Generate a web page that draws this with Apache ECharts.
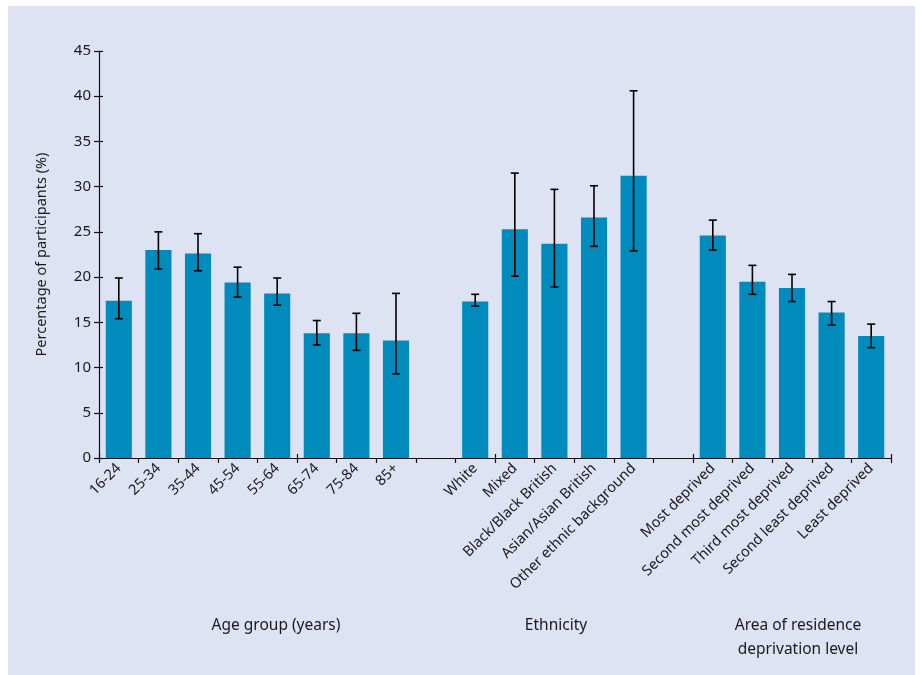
<!DOCTYPE html>
<html>
<head>
<meta charset="utf-8">
<style>
  html, body { margin: 0; padding: 0; background: #ffffff; }
  #panel { position: absolute; left: 8px; top: 6px; width: 907px; height: 669px; background: #dee3f3; }
  #chart { position: absolute; left: 0; top: 0; width: 920px; height: 675px; }
</style>
<script src="https://cdn.jsdelivr.net/npm/echarts@6/dist/echarts.min.js"></script>
</head>
<body>
<div id="panel"></div>
<div id="chart"></div>
<script>
// Categories, with empty slots separating the three groups
const categories = [
  '16-24', '25-34', '35-44', '45-54', '55-64', '65-74', '75-84', '85+',
  '',
  'White', 'Mixed', 'Black/Black British', 'Asian/Asian British', 'Other ethnic background',
  '',
  'Most deprived', 'Second most deprived', 'Third most deprived', 'Second least deprived', 'Least deprived'
];

// Percentage of participants per category
const values = [
  17.4, 23.0, 22.6, 19.4, 18.2, 13.8, 13.8, 13.0,
  null,
  17.3, 25.3, 23.7, 26.6, 31.2,
  null,
  24.6, 19.5, 18.8, 16.1, 13.5
];

// 95% confidence interval bounds
const lower = [
  15.4, 20.9, 20.7, 17.8, 16.9, 12.5, 11.9, 9.3,
  null,
  16.8, 20.1, 18.9, 23.4, 22.9,
  null,
  23.0, 18.1, 17.3, 14.7, 12.2
];
const upper = [
  19.9, 25.0, 24.8, 21.1, 19.9, 15.2, 16.0, 18.2,
  null,
  18.1, 31.5, 29.7, 30.1, 40.6,
  null,
  26.3, 21.3, 20.3, 17.3, 14.8
];

// Y axis ticks
const yTicks = [0, 5, 10, 15, 20, 25, 30, 35, 40, 45];

const groupTitles = [
  { text: 'Age group (years)', x: 276, y: 626 },
  { text: 'Ethnicity', x: 556, y: 626 },
  { text: 'Area of residence\ndeprivation level', x: 798, y: 638 }
];

const FONT = '"Noto Sans", "Open Sans", sans-serif';
const TEXT = '#1a1a1a';

const errorData = categories.map((c, i) => [i, lower[i], upper[i]]).filter(d => d[1] != null);

const chart = echarts.init(document.getElementById('chart'), null, { renderer: 'canvas' });

const yMin = yTicks[0], yMax = yTicks[yTicks.length - 1], yStep = yTicks[1] - yTicks[0];

chart.setOption({
  backgroundColor: 'transparent',
  animation: false,
  textStyle: { fontFamily: FONT },
  grid: { left: 99, right: 29, top: 51, bottom: 217, containLabel: false },
  xAxis: [
    {
      type: 'category',
      data: categories,
      axisLine: { lineStyle: { color: '#111', width: 1.2 } },
      axisTick: { show: true, length: 5, lineStyle: { color: '#111', width: 1.2 } },
      axisLabel: {
        interval: 0, rotate: 45, margin: 8,
        fontFamily: FONT, fontSize: 14.5, color: TEXT
      },
      splitLine: { show: false }
    },
    {
      type: 'category',
      data: categories,
      position: 'bottom',
      axisLine: { show: false },
      axisTick: { show: true, inside: true, length: 4, lineStyle: { color: '#111', width: 1.2 } },
      axisLabel: { show: false }
    }
  ],
  yAxis: [
    {
      type: 'value',
      min: yMin, max: yMax, interval: yStep,
      name: 'Percentage of participants (%)',
      nameLocation: 'middle',
      nameGap: 50,
      nameRotate: 90,
      nameTextStyle: { fontFamily: FONT, fontSize: 14.5, color: TEXT },
      axisLine: { show: true, lineStyle: { color: '#111', width: 1.2 } },
      axisTick: { show: true, length: 5, lineStyle: { color: '#111', width: 1.2 } },
      axisLabel: { margin: 8, fontFamily: FONT, fontSize: 15, color: TEXT },
      splitLine: { show: false }
    },
    {
      type: 'value',
      min: yMin, max: yMax, interval: yStep,
      position: 'left',
      axisLine: { show: false },
      axisTick: { show: true, inside: true, length: 4, lineStyle: { color: '#111', width: 1.2 } },
      axisLabel: { show: false },
      splitLine: { show: false }
    }
  ],
  series: [
    {
      type: 'bar',
      data: values,
      barCategoryGap: '34%',
      itemStyle: { color: '#008bbd' },
      z: 2
    },
    {
      type: 'custom',
      data: errorData,
      z: 5,
      renderItem: function (params, api) {
        const x = api.value(0);
        const lo = api.coord([x, api.value(1)]);
        const hi = api.coord([x, api.value(2)]);
        const cap = 4;
        const style = { stroke: '#000', lineWidth: 1.6 };
        return {
          type: 'group',
          children: [
            { type: 'line', shape: { x1: lo[0], y1: lo[1], x2: hi[0], y2: hi[1] }, style },
            { type: 'line', shape: { x1: lo[0] - cap, y1: lo[1], x2: lo[0] + cap, y2: lo[1] }, style },
            { type: 'line', shape: { x1: hi[0] - cap, y1: hi[1], x2: hi[0] + cap, y2: hi[1] }, style }
          ]
        };
      }
    }
  ],
  graphic: groupTitles.map(g => ({
    type: 'text',
    x: g.x, y: g.y,
    style: {
      text: g.text, fontFamily: FONT, fontSize: 15.5, fill: TEXT,
      align: 'center', verticalAlign: 'middle', lineHeight: 24
    }
  }))
});
</script>
</body>
</html>
